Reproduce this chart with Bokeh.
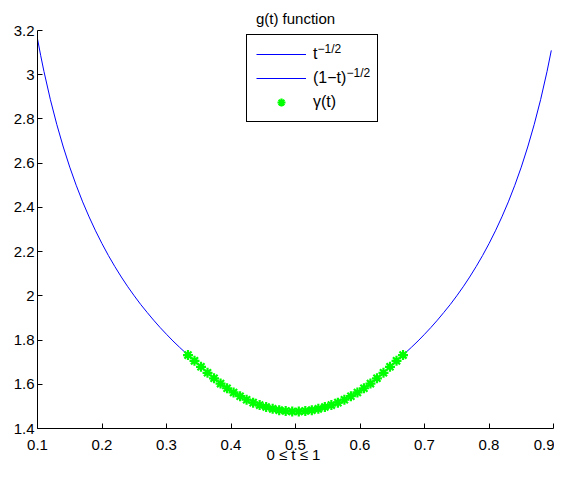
from bokeh.plotting import figure
from bokeh.models import Range1d, FixedTicker, CustomJSTickFormatter, Legend, LegendItem
from bokeh.core.properties import value
from bokeh.embed import file_html
from bokeh.resources import INLINE

# ---- data ----
left_t = [0.100, 0.105, 0.110, 0.120, 0.130, 0.140, 0.150, 0.160, 0.170, 0.180, 0.190, 0.200,
          0.210, 0.220, 0.230, 0.240, 0.250, 0.260, 0.270, 0.280, 0.290, 0.300, 0.310, 0.320, 0.3333]
left_g = [3.162, 3.086, 3.015, 2.887, 2.774, 2.673, 2.582, 2.500, 2.425, 2.357, 2.294, 2.236,
          2.182, 2.132, 2.085, 2.041, 2.000, 1.961, 1.925, 1.890, 1.857, 1.826, 1.796, 1.768, 1.732]

right_t = [0.6667, 0.680, 0.690, 0.700, 0.710, 0.720, 0.730, 0.740, 0.750, 0.760, 0.770, 0.780,
           0.790, 0.800, 0.810, 0.820, 0.830, 0.840, 0.850, 0.860, 0.870, 0.880, 0.890, 0.8966]
right_g = [1.732, 1.768, 1.796, 1.826, 1.857, 1.890, 1.925, 1.961, 2.000, 2.041, 2.085, 2.132,
           2.182, 2.236, 2.294, 2.357, 2.425, 2.500, 2.582, 2.673, 2.774, 2.887, 3.015, 3.110]

gamma_t = [0.3333, 0.3434, 0.3535, 0.3636, 0.3737, 0.3838, 0.3939, 0.4040, 0.4141, 0.4242,
           0.4343, 0.4444, 0.4545, 0.4646, 0.4747, 0.4848, 0.4949, 0.5051, 0.5152, 0.5253,
           0.5354, 0.5455, 0.5556, 0.5657, 0.5758, 0.5859, 0.5960, 0.6061, 0.6162, 0.6263,
           0.6364, 0.6465, 0.6566, 0.6667]
gamma_g = [1.732, 1.706, 1.679, 1.652, 1.627, 1.603, 1.582, 1.563, 1.546, 1.530,
           1.517, 1.506, 1.497, 1.489, 1.483, 1.479, 1.477, 1.477, 1.479, 1.483,
           1.489, 1.497, 1.506, 1.517, 1.530, 1.546, 1.563, 1.582, 1.603, 1.627,
           1.652, 1.679, 1.706, 1.732]

x_ticks = [0.1, 0.2, 0.3, 0.4, 0.5, 0.6, 0.7, 0.8, 0.9]
y_ticks = [1.4, 1.6, 1.8, 2.0, 2.2, 2.4, 2.6, 2.8, 3.0, 3.2]

legend_labels = ["t", "(1\u2212t)", "\u03b3(t)"]
legend_sups = ["\u22121/2", "\u22121/2"]
title_text = "g(t) function"
xlabel_text = "0 \u2264  t \u2264 1"

FONT = "Liberation Sans"
BLUE = "#0000ff"
GREEN = "#00ff00"

# layout (screen pixels)
BL, BR, BT, BB = 37, 1, 30, 37
W, H = 554, 465
LEG_X, LEG_BOTTOM = 209, 306      # legend box, relative to frame left / bottom
PAD, GW, GH, SPACING, STANDOFF, LW = 9, 50, 20, 4, 7, 55

X0, X1 = x_ticks[0], x_ticks[-1]
Y0, Y1 = y_ticks[0], y_ticks[-1]

p = figure(width=W, height=H, output_backend="svg", toolbar_location=None,
           x_range=Range1d(X0, X1), y_range=Range1d(Y0, Y1),
           min_border_left=BL, min_border_right=BR, min_border_top=BT, min_border_bottom=BB,
           title=title_text)
p.background_fill_color = "white"
p.border_fill_color = "white"
p.outline_line_color = None
p.grid.visible = False

p.title.align = "center"
p.title.vertical_align = "bottom"
p.title.text_font = FONT
p.title.text_font_size = "15px"
p.title.text_font_style = "normal"
p.title.text_color = "black"
p.title.text_line_height = 1.0
p.title.standoff = 8

r1 = p.line(left_t, left_g, line_color=BLUE, line_width=1)
r2 = p.line(right_t, right_g, line_color=BLUE, line_width=1)
r3 = p.scatter(gamma_t, gamma_g, marker="asterisk", size=10, line_color=GREEN, line_width=2.2)

for ax, ticks in ((p.xaxis[0], x_ticks), (p.yaxis[0], y_ticks)):
    ax.ticker = FixedTicker(ticks=ticks)
    ax.formatter = CustomJSTickFormatter(code="return String(Math.round(tick*10)/10);")
    ax.major_tick_in = 5
    ax.major_tick_out = 0
    ax.minor_tick_line_color = None
    ax.axis_line_color = "black"
    ax.major_tick_line_color = "black"
    ax.major_label_text_font = FONT
    ax.major_label_text_font_size = "15px"
    ax.major_label_text_color = "black"
    ax.major_label_standoff = 3
p.xaxis.major_label_standoff = 11

p.xaxis.axis_label = xlabel_text
p.xaxis.axis_label_text_font = FONT
p.xaxis.axis_label_text_font_size = "15px"
p.xaxis.axis_label_text_font_style = "normal"
p.xaxis.axis_label_text_color = "black"
p.xaxis.axis_label_standoff = -7

legend = Legend(items=[LegendItem(label=legend_labels[0], renderers=[r1]),
                       LegendItem(label=legend_labels[1], renderers=[r2]),
                       LegendItem(label=legend_labels[2], renderers=[r3])],
                location=(LEG_X, LEG_BOTTOM))
legend.border_line_color = "black"
legend.border_line_width = 1
legend.border_line_alpha = 1
legend.background_fill_color = None
legend.label_text_font = FONT
legend.label_text_font_size = "16px"
legend.label_text_color = "black"
legend.glyph_width = GW
legend.glyph_height = GH
legend.label_height = GH
legend.label_width = LW
legend.label_standoff = STANDOFF
legend.padding = PAD
legend.spacing = SPACING
legend.margin = 0
p.add_layout(legend, "center")

# superscripts of the legend labels: anchored at the frame's bottom-left corner,
# shifted in screen pixels into the legend box
leg_h = 2 * PAD + 3 * GH + 2 * SPACING
text_x = LEG_X + PAD + GW + STANDOFF
base_w = [4.5, 33.5]
xo, yo = [], []
for i in range(len(legend_sups)):
    row_center = LEG_BOTTOM + leg_h - PAD - GH / 2 - i * (GH + SPACING)
    xo.append(text_x + base_w[i] + 0.5)
    yo.append(-(row_center + 7))
p.text(x=[X0] * len(legend_sups), y=[Y0] * len(legend_sups), text=legend_sups,
       x_offset=xo, y_offset=yo, text_font=value(FONT), text_font_size=value("12px"),
       text_color="black", text_baseline="middle", text_align="left", level="overlay")

open("out.html", "w").write(file_html(p, INLINE))
